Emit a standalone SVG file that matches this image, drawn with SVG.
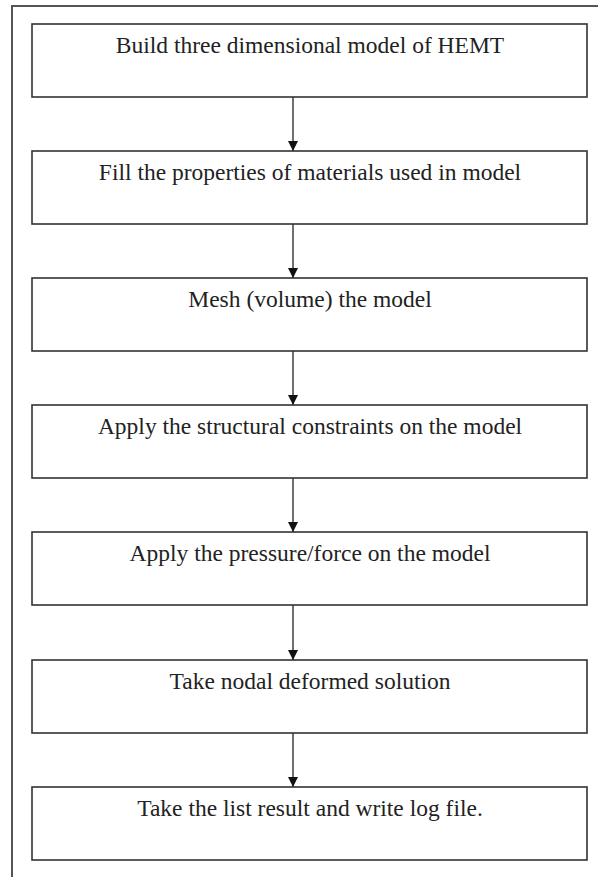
<svg xmlns="http://www.w3.org/2000/svg" width="598" height="877" viewBox="0 0 598 877">
<style>
.box{fill:#fff;stroke:#333;stroke-width:1.6}
.lbl{font-family:"Liberation Serif","Times New Roman",serif;font-size:23.5px;fill:#222;text-anchor:middle}
.con{stroke:#333;stroke-width:1.4;fill:none}
</style>
<defs>
<marker id="ah" viewBox="0 0 10 10" refX="10" refY="5" markerWidth="10" markerHeight="10" markerUnits="userSpaceOnUse" orient="auto">
<path d="M0,0 L10,5 L0,10 z" fill="#111"/>
</marker>
</defs>
<rect width="598" height="877" fill="#fff"/>
<path d="M12,877 L12,6 L598,6" fill="none" stroke="#555" stroke-width="2"/>
<g id="n1"><rect class="box" x="32" y="24" width="555" height="73"/><text class="lbl" x="310" y="53">Build three dimensional model of HEMT</text></g>
<g id="n2"><rect class="box" x="32" y="151" width="555" height="73"/><text class="lbl" x="310" y="180">Fill the properties of materials used in model</text></g>
<g id="n3"><rect class="box" x="32" y="278" width="555" height="73"/><text class="lbl" x="310" y="307">Mesh (volume) the model</text></g>
<g id="n4"><rect class="box" x="32" y="405" width="555" height="73"/><text class="lbl" x="310" y="434">Apply the structural constraints on the model</text></g>
<g id="n5"><rect class="box" x="32" y="532" width="555" height="73"/><text class="lbl" x="310" y="561">Apply the pressure/force on the model</text></g>
<g id="n6"><rect class="box" x="32" y="660" width="555" height="73"/><text class="lbl" x="310" y="689">Take nodal deformed solution</text></g>
<g id="n7"><rect class="box" x="32" y="787" width="555" height="73"/><text class="lbl" x="310" y="816">Take the list result and write log file.</text></g>
<g id="connectors">
<line class="con" x1="293" y1="97" x2="293" y2="151" marker-end="url(#ah)"/>
<line class="con" x1="293" y1="224" x2="293" y2="278" marker-end="url(#ah)"/>
<line class="con" x1="293" y1="351" x2="293" y2="405" marker-end="url(#ah)"/>
<line class="con" x1="293" y1="478" x2="293" y2="532" marker-end="url(#ah)"/>
<line class="con" x1="293" y1="605" x2="293" y2="660" marker-end="url(#ah)"/>
<line class="con" x1="293" y1="733" x2="293" y2="787" marker-end="url(#ah)"/>
</g>
</svg>
